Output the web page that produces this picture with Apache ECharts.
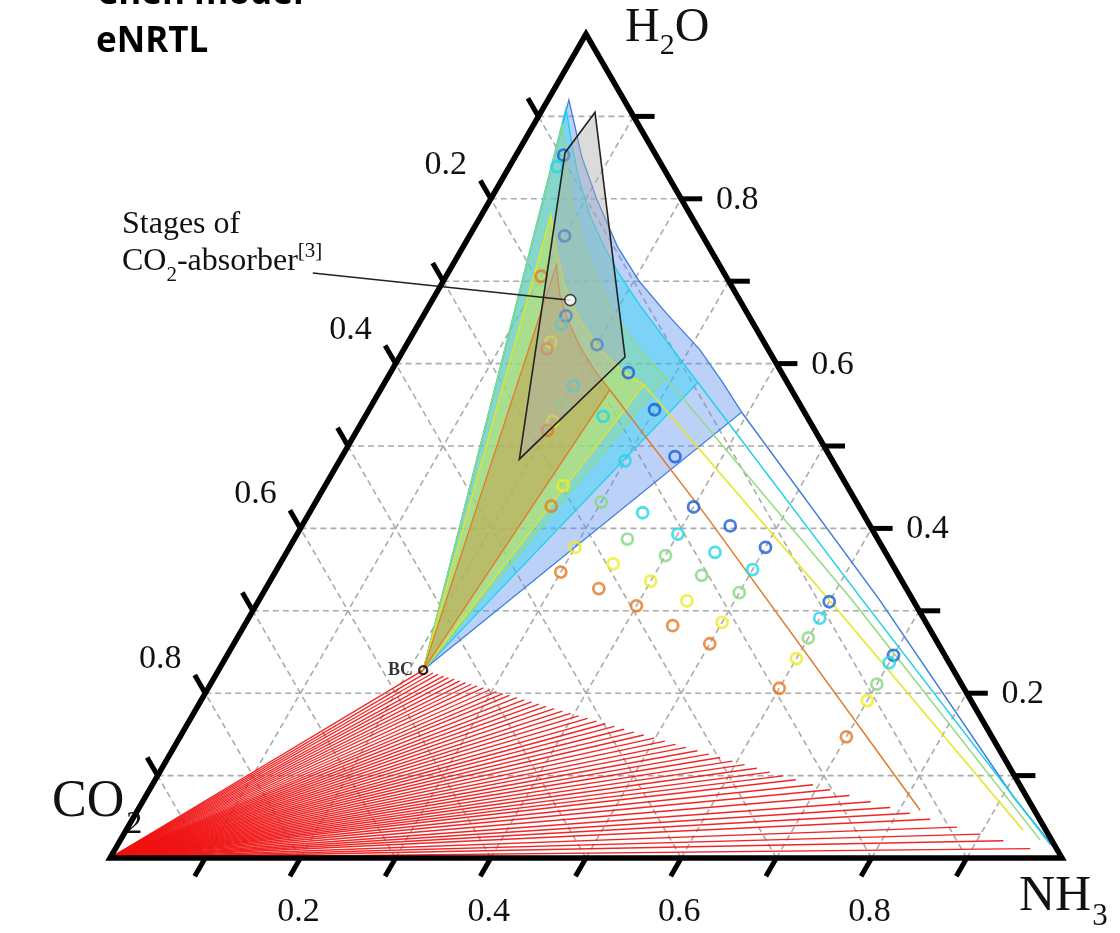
<!DOCTYPE html>
<html><head><meta charset="utf-8">
<script src="https://cdn.jsdelivr.net/npm/echarts@6/dist/echarts.min.js"></script>
<style>html,body{margin:0;padding:0;background:#fff}#c{width:1120px;height:933px}</style>
</head><body><div id="c"></div>
<script>
// ---------- data (mass fractions: [NH3, H2O]; CO2 = 1 - NH3 - H2O) ----------
const gridValues = [0.1,0.2,0.3,0.4,0.5,0.6,0.7,0.8,0.9];
const labelValues = [0.2,0.4,0.6,0.8];
const labelTexts = ['0.2','0.4','0.6','0.8'];

const BC = [0.215, 0.228];              // ammonium bicarbonate
// NH3 fraction at the liquid end of each red tie line (ends lie on the BC–NH3 line)
const redTieNH3 = [0.215,0.221,0.227,0.233,0.240,0.246,0.253,0.260,0.267,0.274,0.281,0.289,0.297,0.305,0.313,0.321,0.330,0.339,0.348,0.357,0.366,0.376,0.386,0.396,0.406,0.417,0.428,0.439,0.450,0.462,0.474,0.486,0.499,0.512,0.525,0.538,0.552,0.566,0.580,0.595,0.610,0.625,0.641,0.657,0.673,0.694,0.715,0.739,0.765,0.789,0.813,0.838,0.871,0.900,0.928,0.961,0.994];

const blueCurve   = [[0.022,0.920],[0.043,0.890],[0.070,0.851],[0.112,0.799],[0.162,0.742],[0.207,0.699],[0.254,0.661],[0.311,0.617],[0.354,0.578],[0.393,0.541]];
const blueTail    = [[0.393,0.541],[0.652,0.313],[0.912,0.074],[0.992,0.007]];
const cyanCurve   = [[0.024,0.910],[0.049,0.871],[0.077,0.829],[0.114,0.780],[0.150,0.740],[0.179,0.710],[0.221,0.671],[0.269,0.629],[0.329,0.577]];
const cyanTail    = [[0.329,0.577],[0.634,0.313],[0.980,0.016]];
const greenCurve  = [[0.030,0.890],[0.056,0.847],[0.086,0.799],[0.121,0.750],[0.160,0.702],[0.201,0.659],[0.245,0.619],[0.292,0.583]];
const greenTail   = [[0.292,0.583],[0.623,0.313],[0.966,0.022]];
const yellowCurve = [[0.073,0.780],[0.100,0.738],[0.130,0.695],[0.167,0.653],[0.206,0.617],[0.242,0.592],[0.274,0.574]];
const yellowTail  = [[0.274,0.574],[0.609,0.305],[0.942,0.034]];
const orangeCurve = [[0.109,0.720],[0.131,0.683],[0.156,0.651],[0.184,0.620],[0.213,0.592],[0.241,0.568]];
const orangeTail  = [[0.241,0.568],[0.420,0.414],[0.822,0.058]];

const blueNH3   = [0.05,0.10,0.15,0.20,0.25,0.30,0.35,0.40,0.45,0.50,0.60,0.70];
const blueH2O   = [0.853,0.755,0.658,0.623,0.589,0.544,0.487,0.426,0.403,0.377,0.311,0.246];
const cyanNH3   = [0.05,0.15,0.20,0.25,0.30,0.35,0.40,0.45,0.50,0.60,0.70];
const cyanH2O   = [0.839,0.648,0.573,0.536,0.482,0.419,0.393,0.371,0.350,0.291,0.237];
const greenNH3  = [0.20,0.30,0.35,0.40,0.45,0.50,0.60,0.70];
const greenH2O  = [0.550,0.432,0.387,0.367,0.343,0.322,0.267,0.211];
const yellowNH3 = [0.15,0.20,0.25,0.30,0.35,0.40,0.45,0.50,0.60,0.70];
const yellowH2O = [0.626,0.530,0.452,0.377,0.357,0.336,0.312,0.286,0.242,0.191];
const orangeNH3 = [0.10,0.15,0.20,0.25,0.30,0.35,0.40,0.45,0.50,0.60,0.70];
const orangeH2O = [0.706,0.618,0.519,0.427,0.347,0.327,0.306,0.282,0.260,0.206,0.147];

const absorberStages = [[0.057,0.905],[0.050,0.856],[0.188,0.484],[0.237,0.608]];
const absorberMarker = [0.145,0.677];
const absorberLabelAnchor = [-0.142,0.710];

// ---------- helpers ----------
const SQ = Math.sqrt(3) / 2;
const toXY = (p) => [p[0] + p[1] / 2, p[1] * SQ];
const zip = (a, b) => a.map((v, i) => [v, b[i]]);
const SERIF = '"Liberation Serif", "Times New Roman", serif';

function segSeries(segs, style, z) {
  return {
    type: 'custom', coordinateSystem: 'cartesian2d', z: z, silent: true, clip: false,
    encode: { x: [0, 2], y: [1, 3] },
    data: segs.map(s => { const a = toXY(s[0]), b = toXY(s[1]); return [a[0], a[1], b[0], b[1]]; }),
    renderItem: (params, api) => {
      const p1 = api.coord([api.value(0), api.value(1)]);
      const p2 = api.coord([api.value(2), api.value(3)]);
      return { type: 'line', shape: { x1: p1[0], y1: p1[1], x2: p2[0], y2: p2[1] }, style: style };
    }
  };
}
function shapeSeries(pts, kind, style, z) {
  const xy = pts.map(toXY);
  return {
    type: 'custom', coordinateSystem: 'cartesian2d', z: z, silent: true, clip: false,
    encode: { x: 0, y: 1 },
    data: [xy[0]],
    renderItem: (params, api) => ({ type: kind, shape: { points: xy.map(p => api.coord(p)) }, style: style })
  };
}
function circles(nh3, h2o, color, z) {
  return {
    type: 'scatter', z: z, silent: true, symbol: 'circle', symbolSize: 11,
    itemStyle: { color: 'rgba(255,255,255,0)', borderColor: color, borderWidth: 2.8 },
    data: zip(nh3, h2o).map(toXY)
  };
}
function fan(curve, tail, edge, fill, z) {
  return [
    shapeSeries([BC].concat(curve), 'polygon', { fill: fill, stroke: edge, lineWidth: 1.3 }, z),
    shapeSeries(tail, 'polyline', { fill: null, stroke: edge, lineWidth: 1.5 }, z)
  ];
}

// ---------- grid lines ----------
const gridSegs = [];
gridValues.forEach(v => {
  gridSegs.push([[v, 0], [v, 1 - v]]);         // constant NH3
  gridSegs.push([[0, v], [1 - v, v]]);         // constant H2O
  gridSegs.push([[1 - v, 0], [0, 1 - v]]);     // constant CO2
});
// red tie lines from the CO2 corner
const redSegs = redTieNH3.map(n => [[0, 0], [n, BC[1] * (1 - n) / (1 - BC[0])]]);

// ticks: [x, y, dirIndex]
const DIRS = [[-0.5, 0.866], [1, 0], [-0.5, -0.866]];
const tickData = [];
gridValues.forEach(v => {
  tickData.push(toXY([v, 0]).concat([0]));       // bottom: NH3
  tickData.push(toXY([1 - v, v]).concat([1]));   // right: H2O
  tickData.push(toXY([0, 1 - v]).concat([2]));   // left: CO2
});
const OFFS = [[-2, 54], [56, 1], [-45, -34]];
const labelData = [];
labelValues.forEach((v, i) => {
  labelData.push(toXY([v, 0]).concat([0, i]));
  labelData.push(toXY([1 - v, v]).concat([1, i]));
  labelData.push(toXY([0, 1 - v]).concat([2, i]));
});

const series = [
  segSeries(gridSegs, { stroke: '#ababab', lineWidth: 1.6, lineDash: [6, 4] }, 1),
  segSeries(redSegs, { stroke: 'rgba(240,18,18,0.92)', lineWidth: 1.35 }, 2),
  ...fan(blueCurve, blueTail, '#3f7fdc', 'rgba(95,145,235,0.42)', 3),
  ...fan(cyanCurve, cyanTail, '#1fd0ec', 'rgba(30,215,245,0.40)', 3),
  ...fan(greenCurve, greenTail, '#8fdc7c', 'rgba(150,225,110,0.32)', 3),
  ...fan(yellowCurve, yellowTail, '#e6e61e', 'rgba(235,235,40,0.36)', 3),
  ...fan(orangeCurve, orangeTail, '#e07b2a', 'rgba(215,125,40,0.34)', 3),
  circles(blueNH3, blueH2O, '#1a5fd6', 5),
  circles(cyanNH3, cyanH2O, '#22d6ea', 5),
  circles(greenNH3, greenH2O, '#86d882', 5),
  circles(yellowNH3, yellowH2O, '#eeee22', 5),
  circles(orangeNH3, orangeH2O, '#e27a28', 5),
  shapeSeries(absorberStages, 'polygon', { fill: 'rgba(175,175,175,0.45)', stroke: '#222', lineWidth: 1.6 }, 6),
  segSeries([[absorberLabelAnchor, absorberMarker]], { stroke: '#222', lineWidth: 1.5 }, 6),
  {
    type: 'scatter', z: 7, silent: true, symbolSize: 11,
    itemStyle: { color: '#fff', borderColor: '#222', borderWidth: 1.6 },
    data: [toXY(absorberMarker)]
  },
  {
    type: 'scatter', z: 7, silent: true, symbolSize: 8,
    itemStyle: { color: 'rgba(255,255,255,0)', borderColor: '#000', borderWidth: 2.4 },
    label: { show: true, position: 'left', distance: 5, formatter: 'BC', fontFamily: SERIF, fontWeight: 'bold', fontSize: 18, color: '#000' },
    data: [toXY(BC)]
  },
  shapeSeries([[0, 0], [1, 0], [0, 1], [0, 0]], 'polygon', { fill: null, stroke: '#000', lineWidth: 5.5, lineJoin: 'miter' }, 8),
  {
    type: 'custom', coordinateSystem: 'cartesian2d', z: 8, silent: true, clip: false,
    encode: { x: 0, y: 1 }, data: tickData,
    renderItem: (params, api) => {
      const p = api.coord([api.value(0), api.value(1)]);
      const d = DIRS[api.value(2)];
      return { type: 'line', shape: { x1: p[0], y1: p[1], x2: p[0] + d[0] * 21, y2: p[1] + d[1] * 21 }, style: { stroke: '#000', lineWidth: 5 } };
    }
  },
  {
    type: 'custom', coordinateSystem: 'cartesian2d', z: 8, silent: true, clip: false,
    encode: { x: 0, y: 1 }, data: labelData,
    renderItem: (params, api) => {
      const p = api.coord([api.value(0), api.value(1)]);
      const o = OFFS[api.value(2)];
      return { type: 'text', x: p[0] + o[0], y: p[1] + o[1],
        style: { text: labelTexts[api.value(3)], fontFamily: SERIF, fontSize: 34, fill: '#111', align: 'center', verticalAlign: 'middle' } };
    }
  }
];

// text pieces laid out left to right with measured widths (sub/superscripts)
const mctx = document.createElement('canvas').getContext('2d');
function textRun(parts, x, y) {
  const out = [];
  let cx = x;
  parts.forEach(([t, size, dy, gap]) => {
    cx += gap || 0;
    out.push({ type: 'text', x: cx, y: y + (dy || 0), z: 100, silent: true,
      style: { text: t, fontFamily: SERIF, fontSize: size, fill: '#111', align: 'left', verticalAlign: 'middle' } });
    mctx.font = size + 'px "Liberation Serif"';
    cx += mctx.measureText(t).width;
  });
  return out;
}
const boldSans = (t, x, y) => ({ type: 'text', x: x, y: y, z: 100, silent: true,
  style: { text: t, fontFamily: '"Open Sans", sans-serif', fontWeight: 'bold', fontSize: 35, fill: '#000', align: 'left', verticalAlign: 'middle' } });

const chart = echarts.init(document.getElementById('c'), null, { renderer: 'canvas' });
chart.setOption({
  animation: false,
  backgroundColor: '#fff',
  grid: { left: 110, top: 34, width: 952, height: 824, show: false },
  xAxis: { type: 'value', min: 0, max: 1, show: false },
  yAxis: { type: 'value', min: 0, max: SQ, show: false },
  series: series,
  graphic: [
    boldSans('Chen model', 96, -6),
    boldSans('eNRTL', 96, 42),
    ...textRun([['H', 48], ['2', 30, 18], ['O', 48]], 625, 28),
    ...textRun([['CO', 52], ['2', 32, 23, 2]], 52, 802),
    ...textRun([['NH', 50], ['3', 31, 20, 1]], 1019, 897),
    ...textRun([['Stages of', 32]], 122, 225),
    ...textRun([['CO', 32], ['2', 21, 13], ['-absorber', 32], ['[3]', 21, -11]], 122, 262)
  ]
});
</script></body></html>
